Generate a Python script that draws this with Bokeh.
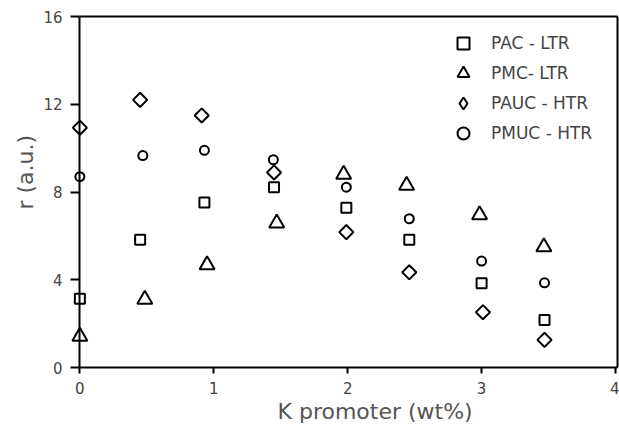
import numpy as np
from bokeh.plotting import figure
from bokeh.models import Range1d, Legend, LegendItem, Title, FixedTicker, LinearAxis
from bokeh.embed import file_html
from bokeh.resources import INLINE

# ---- data ----
pac_x = [0.0, 0.45, 0.93, 1.45, 1.99, 2.46, 3.00, 3.47]
pac_y = [3.13, 5.82, 7.52, 8.22, 7.28, 5.82, 3.84, 2.17]

pmc_x = [0.0, 0.485, 0.95, 1.47, 1.97, 2.44, 2.985, 3.465]
pmc_y = [1.42, 3.10, 4.68, 6.58, 8.80, 8.30, 6.96, 5.50]

pauc_x = [0.0, 0.45, 0.91, 1.45, 1.99, 2.46, 3.01, 3.47]
pauc_y = [10.93, 12.20, 11.49, 8.89, 6.17, 4.34, 2.52, 1.26]

pmuc_x = [0.0, 0.47, 0.93, 1.445, 1.99, 2.46, 3.00, 3.47]
pmuc_y = [8.70, 9.66, 9.90, 9.47, 8.22, 6.78, 4.85, 3.86]

series_names = ["PAC - LTR", "PMC- LTR", "PAUC - HTR", "PMUC - HTR"]
x_ticks = [0, 1, 2, 3, 4]
y_ticks = [0, 4, 8, 12, 16]
x_title = "K promoter (wt%)"
y_title = "r (a.u.)"

FONT = "DejaVu Sans"
X_START, X_END = -0.07, 4.015

p = figure(width=619, height=424, output_backend="svg", toolbar_location=None,
           x_range=Range1d(X_START, X_END), y_range=Range1d(y_ticks[0], y_ticks[-1]),
           min_border_left=70, min_border_right=2, min_border_top=16, min_border_bottom=57)
p.grid.visible = False
p.outline_line_color = None
p.background_fill_color = "white"
p.border_fill_color = "white"

# bottom axis
xa = p.xaxis[0]
xa.ticker = FixedTicker(ticks=x_ticks)
xa.bounds = (x_ticks[0], X_END)
xa.axis_line_color = "black"
xa.axis_line_width = 2
xa.major_tick_line_color = "black"
xa.major_tick_line_width = 2
xa.major_tick_in = 0
xa.major_tick_out = 6
xa.minor_tick_line_color = None
xa.major_label_standoff = 8
xa.major_label_text_font = FONT
xa.major_label_text_font_size = "15px"
xa.major_label_text_color = "#444444"

# left axis: tick labels and ticks (ticks reach inward to the x = 0 line)
ya = p.yaxis[0]
ya.ticker = FixedTicker(ticks=y_ticks)
ya.axis_line_color = None
ya.major_tick_line_color = "black"
ya.major_tick_line_width = 2
ya.minor_tick_line_color = None
ya.major_tick_out = 0
ya.major_tick_in = 9
ya.major_label_standoff = 8
ya.major_label_text_font = FONT
ya.major_label_text_font_size = "15px"
ya.major_label_text_color = "#444444"

# left axis line placed at x = 0, top and right frame lines
frame_axes = [("left", x_ticks[0], None), ("above", None, (x_ticks[0], X_END)),
              ("right", None, None)]
for side, loc, bnds in frame_axes:
    fr = LinearAxis(ticker=FixedTicker(ticks=[]), axis_line_color="black",
                    axis_line_width=2, major_tick_line_color=None,
                    minor_tick_line_color=None, major_label_standoff=0,
                    major_tick_out=0, major_tick_in=0)
    if loc is not None:
        fr.fixed_location = loc
    if bnds is not None:
        fr.bounds = bnds
    p.add_layout(fr, side)

common = dict(line_color="black", line_width=2, fill_color=None)
r1 = p.scatter(pac_x, pac_y, marker="square", size=10, **common)
r2 = p.scatter(pmc_x, pmc_y, marker="triangle", size=15, **common)
r3 = p.scatter(pauc_x, pauc_y, marker="square", angle=np.pi / 4, size=10, **common)
r4 = p.scatter(pmuc_x, pmuc_y, marker="circle", size=9, **common)
# legend-only symbol for the diamonds (legend glyphs ignore marker angle)
r3_leg = p.scatter(pauc_x, pauc_y, marker="diamond", visible=False, **common)

legend = Legend(items=[LegendItem(label=n, renderers=[r]) for n, r in
                       zip(series_names, [r1, r2, r3_leg, r4])],
                location=(378, 219), orientation="vertical",
                glyph_width=30, glyph_height=30, spacing=0, padding=0, margin=0,
                label_standoff=13, label_text_font=FONT, label_text_font_size="17px",
                label_text_color="#444444", label_height=30,
                inactive_fill_alpha=0,
                border_line_color=None, background_fill_alpha=0)
p.add_layout(legend)

p.add_layout(Title(text=x_title, align="left", offset=207, text_font=FONT,
                   text_font_style="normal", text_font_size="22px",
                   text_color="#555555", standoff=0), "below")
p.add_layout(Title(text=y_title, align="left", offset=158, text_font=FONT,
                   text_font_style="normal", text_font_size="22px",
                   text_color="#555555", standoff=6), "left")

open("out.html", "w").write(file_html(p, INLINE))
